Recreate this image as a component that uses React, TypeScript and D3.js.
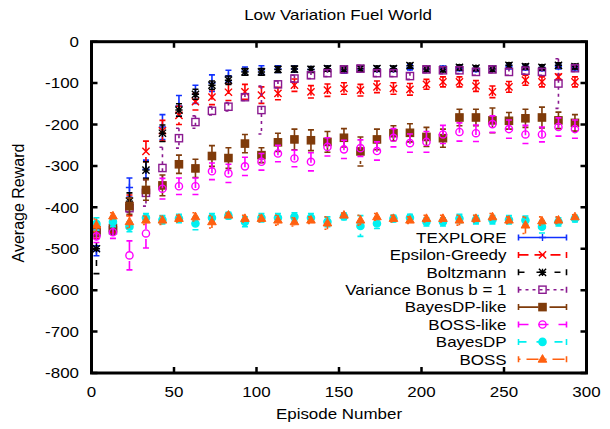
import React from "react";
import * as d3 from "d3";

const episodes = [3, 13, 23, 33, 43, 53, 63, 73, 83, 93, 103, 113, 123, 133, 143, 153, 163, 173, 183, 193, 203, 213, 223, 233, 243, 253, 263, 273, 283, 293];

const texploreMean = [-505, -445, -352, -308, -206, -155, -127, -100, -83, -71, -68, -66, -66, -67, -65, -68, -66, -66, -66, -62, -66, -65, -64, -66, -65, -60, -62, -64, -60, -62];
const texploreErr = [12, 15, 23, 22, 30, 25, 22, 20, 14, 10, 10, 8, 7, 6, 6, 8, 6, 6, 6, 6, 6, 6, 6, 6, 6, 6, 6, 6, 6, 6];

const epsMean = [-460, -445, -395, -265, -215, -178, -145, -134, -122, -121, -129, -125, -105, -121, -117, -113, -117, -109, -113, -115, -103, -97, -97, -107, -121, -109, -93, -97, -85, -97];
const epsErr = [15, 15, 25, 25, 25, 22, 20, 18, 20, 18, 20, 15, 15, 15, 15, 14, 14, 14, 14, 14, 12, 12, 12, 13, 14, 13, 12, 12, 6, 12];

const boltzMean = [-500, -450, -385, -310, -221, -165, -127, -105, -93, -73, -73, -67, -66, -67, -65, -66, -65, -65, -65, -58, -66, -67, -62, -64, -66, -57, -60, -62, -57, -60];
const boltzErr = [60, 15, 20, 20, 20, 15, 12, 10, 10, 8, 8, 7, 7, 7, 6, 6, 6, 6, 6, 6, 6, 6, 6, 6, 6, 6, 6, 6, 6, 6];

const varMean = [-460, -455, -402, -365, -305, -233, -194, -167, -157, -134, -165, -103, -89, -81, -76, -67, -65, -76, -76, -83, -67, -69, -69, -73, -67, -73, -70, -73, -101, -64];
const varErr = [10, 10, 10, 32, 50, 24, 15, 10, 10, 8, 58, 8, 8, 8, 8, 8, 8, 8, 8, 8, 8, 8, 8, 8, 8, 8, 8, 8, 60, 8];

const bdpLikeMean = [-455, -450, -397, -358, -347, -296, -306, -276, -281, -246, -274, -243, -236, -238, -242, -232, -265, -236, -221, -220, -230, -233, -183, -183, -190, -191, -185, -183, -190, -196];
const bdpLikeErr = [15, 15, 20, 25, 25, 22, 22, 25, 25, 22, 18, 22, 25, 25, 25, 22, 35, 25, 18, 22, 23, 22, 20, 20, 30, 20, 22, 25, 20, 20];

const bossLikeMean = [-470, -460, -516, -463, -355, -349, -349, -313, -318, -301, -290, -270, -282, -290, -254, -260, -257, -264, -232, -245, -242, -224, -218, -221, -199, -211, -224, -224, -206, -211];
const bossLikeErr = [15, 15, 35, 35, 25, 20, 20, 20, 22, 22, 20, 20, 20, 22, 22, 22, 20, 22, 22, 22, 25, 22, 22, 20, 20, 22, 22, 18, 22, 22];

const bayesDPMean = [-440, -435, -447, -425, -430, -427, -439, -425, -420, -435, -425, -425, -423, -425, -435, -422, -445, -439, -427, -425, -435, -435, -427, -430, -430, -430, -431, -447, -435, -427];
const bayesDPErr = [15, 12, 12, 10, 10, 10, 15, 10, 8, 12, 10, 10, 10, 10, 12, 8, 25, 12, 8, 8, 10, 10, 10, 10, 10, 10, 10, 15, 10, 8];

const bossMean = [-443, -421, -435, -431, -431, -427, -423, -435, -419, -427, -427, -431, -435, -431, -438, -419, -431, -423, -427, -431, -427, -427, -431, -427, -423, -431, -443, -433, -431, -423];
const bossErr = [15, 8, 15, 10, 10, 8, 10, 15, 5, 8, 8, 12, 10, 8, 15, 5, 12, 8, 8, 8, 8, 8, 12, 8, 8, 8, 20, 10, 8, 5];

const seriesNames = ["TEXPLORE", "Epsilon-Greedy", "Boltzmann", "Variance Bonus b = 1", "BayesDP-like", "BOSS-like", "BayesDP", "BOSS"];
const xTicks = [0, 50, 100, 150, 200, 250, 300];
const yTicks = [0, -100, -200, -300, -400, -500, -600, -700, -800];
const titleText = "Low Variation Fuel World";
const xLabel = "Episode Number";
const yLabel = "Average Reward";

const seriesData = [
  { mean: texploreMean, err: texploreErr },
  { mean: epsMean, err: epsErr },
  { mean: boltzMean, err: boltzErr },
  { mean: varMean, err: varErr },
  { mean: bdpLikeMean, err: bdpLikeErr },
  { mean: bossLikeMean, err: bossLikeErr },
  { mean: bayesDPMean, err: bayesDPErr },
  { mean: bossMean, err: bossErr },
];

const styles = [
  { color: "#1030ff", dash: "none", marker: "plus" },
  { color: "#ff0000", dash: "10,6", marker: "cross" },
  { color: "#000000", dash: "6,12", marker: "star" },
  { color: "#8a1a90", dash: "3,4", marker: "square" },
  { color: "#7f3b0a", dash: "20,4,3,4", marker: "fsquare" },
  { color: "#ff00ff", dash: "10,10", marker: "circle" },
  { color: "#00f0f0", dash: "8,10", marker: "fcircle" },
  { color: "#ff6010", dash: "2,6,12,6", marker: "ftriangle" },
];

const FONT = "'Liberation Sans', Arial, Helvetica, sans-serif";
const SX = 1.13;

const L = 91.5, R = 586.5, T = 41.7, B = 373;

function Marker({ type, x, y, color }: { type: string; x: number; y: number; color: string }) {
  const s = 3.6;
  const sw = 1.4;
  switch (type) {
    case "plus":
      return <path d={`M${x - s},${y}H${x + s}M${x},${y - s}V${y + s}`} stroke={color} strokeWidth={sw} fill="none" />;
    case "cross":
      return <path d={`M${x - s},${y - s}L${x + s},${y + s}M${x - s},${y + s}L${x + s},${y - s}`} stroke={color} strokeWidth={sw} fill="none" />;
    case "star":
      return <path d={`M${x - s},${y - s}L${x + s},${y + s}M${x - s},${y + s}L${x + s},${y - s}M${x - s},${y}H${x + s}M${x},${y - s}V${y + s}`} stroke={color} strokeWidth={sw} fill="none" />;
    case "square":
      return <rect x={x - s} y={y - s} width={2 * s} height={2 * s} stroke={color} strokeWidth={sw} fill="none" />;
    case "fsquare":
      return <rect x={x - s} y={y - s} width={2 * s} height={2 * s} stroke={color} strokeWidth={sw} fill={color} />;
    case "circle":
      return <circle cx={x} cy={y} r={s} stroke={color} strokeWidth={sw} fill="none" />;
    case "fcircle":
      return <circle cx={x} cy={y} r={s} stroke={color} strokeWidth={sw} fill={color} />;
    case "ftriangle":
      return <path d={`M${x},${y - s * 1.3}L${x + s * 1.2},${y + s * 0.8}L${x - s * 1.2},${y + s * 0.8}Z`} stroke={color} strokeWidth={1} fill={color} />;
    default:
      return null;
  }
}

function SText({ x, y, anchor, children, size = 15 }: { x: number; y: number; anchor: string; children: React.ReactNode; size?: number }) {
  return (
    <g transform={`translate(${x},${y}) scale(${SX},1)`}>
      <text x={0} y={0} textAnchor={anchor} fontFamily={FONT} fontSize={size} fill="#000">
        {children}
      </text>
    </g>
  );
}

export default function App() {
  const x = d3.scaleLinear().domain([0, 300]).range([L, R]);
  const y = d3.scaleLinear().domain([-800, 0]).range([B, T]);
  const capW = 3;
  const legendTextX = 506.5;
  const legendX0 = 518.5, legendX1 = 566.5;
  const legendY0 = 237.5, legendDy = 17.4;

  return (
    <svg width={610} height={429} style={{ position: "absolute", left: 0, top: 0, background: "#fff" }}>
      <rect x={0} y={0} width={610} height={429} fill="#fff" />
      <SText x={338} y={20} anchor="middle">{titleText}</SText>

      {/* data */}
      {seriesData.map((s, si) => {
        const st = styles[si];
        return (
          <g key={si}>
            {episodes.map((e, i) => {
              const cx = x(e);
              const yl = y(s.mean[i] - s.err[i]);
              const yh = y(s.mean[i] + s.err[i]);
              return (
                <g key={i}>
                  <path
                    d={`M${cx},${yh}V${yl}M${cx - capW},${yh}H${cx + capW}M${cx - capW},${yl}H${cx + capW}`}
                    stroke={st.color}
                    strokeWidth={1.6}
                    strokeDasharray={st.dash}
                    fill="none"
                  />
                  <Marker type={st.marker} x={cx} y={y(s.mean[i])} color={st.color} />
                </g>
              );
            })}
          </g>
        );
      })}

      {/* legend */}
      {seriesNames.map((name, i) => {
        const st = styles[i];
        const ly = legendY0 + i * legendDy;
        const mid = (legendX0 + legendX1) / 2;
        return (
          <g key={name}>
            <SText x={legendTextX} y={ly + 5.3} anchor="end">{name}</SText>
            <path d={`M${legendX0},${ly}H${legendX1}`} stroke={st.color} strokeWidth={1.6} strokeDasharray={st.dash} fill="none" />
            <path d={`M${legendX0},${ly - 3}V${ly + 3}M${legendX1},${ly - 3}V${ly + 3}`} stroke={st.color} strokeWidth={1.6} fill="none" />
            <Marker type={st.marker} x={mid} y={ly} color={st.color} />
          </g>
        );
      })}

      {/* ticks */}
      {yTicks.map((t) => (
        <g key={"y" + t}>
          <path d={`M${L},${y(t)}H${L + 6}M${R},${y(t)}H${R - 6}`} stroke="#000" strokeWidth={2.5} />
          <SText x={79} y={y(t) + 5.3} anchor="end">{String(t)}</SText>
        </g>
      ))}
      {xTicks.map((t) => (
        <g key={"x" + t}>
          <path d={`M${x(t)},${B}V${B - 6}M${x(t)},${T}V${T + 6}`} stroke="#000" strokeWidth={2.5} />
          <SText x={x(t)} y={396.5} anchor="middle">{String(t)}</SText>
        </g>
      ))}
      <rect x={L} y={T} width={R - L} height={B - T} fill="none" stroke="#000" strokeWidth={3} />

      <SText x={339} y={419} anchor="middle">{xLabel}</SText>
      <text
        transform={`translate(24.3,203) rotate(-90)`}
        textAnchor="middle"
        fontFamily={FONT}
        fontSize={16}
        fill="#000"
      >
        {yLabel}
      </text>
    </svg>
  );
}
